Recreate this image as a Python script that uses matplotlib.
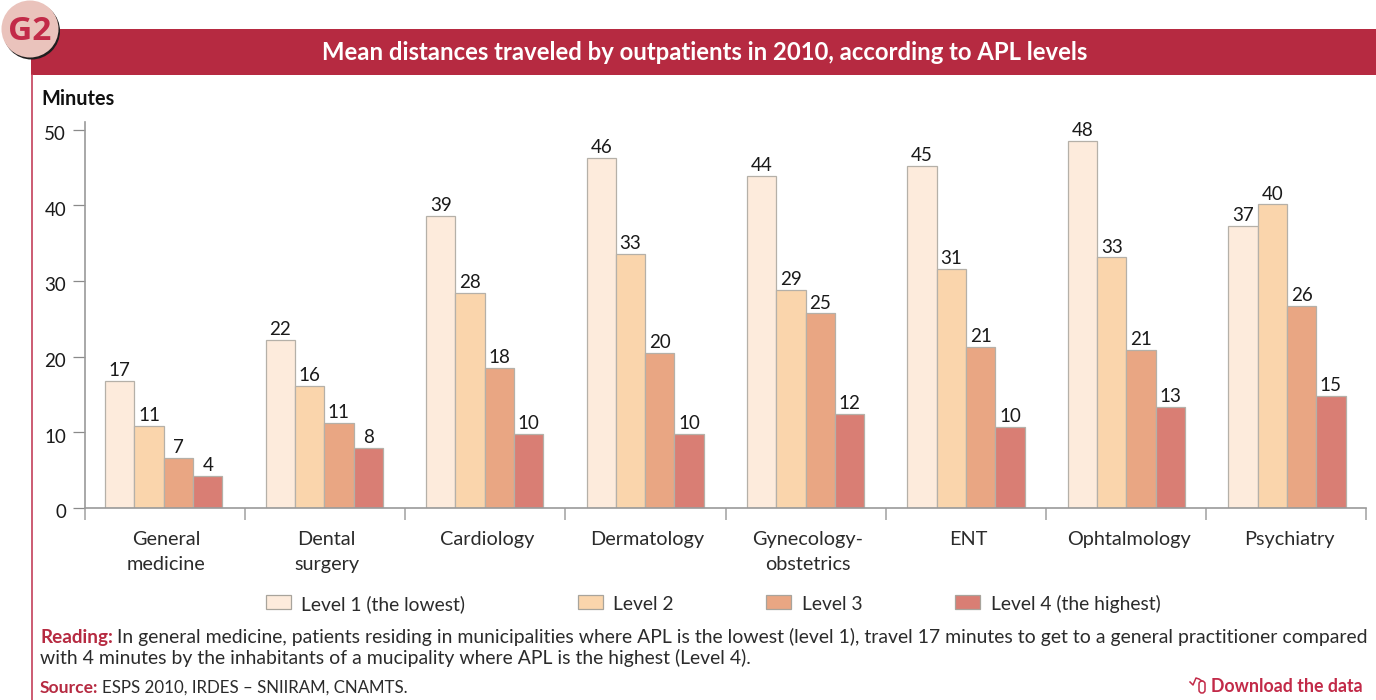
import matplotlib
matplotlib.use("Agg")
import matplotlib.pyplot as plt
from matplotlib.patches import Rectangle, Circle, FancyBboxPatch
from matplotlib.transforms import ScaledTranslation
import numpy as np

categories = ["General\nmedicine", "Dental\nsurgery", "Cardiology", "Dermatology",
              "Gynecology-\nobstetrics", "ENT", "Ophtalmology", "Psychiatry"]
level1 = [16.8, 22.2, 38.6, 46.3, 43.9, 45.2, 48.5, 37.3]
level2 = [10.9, 16.1, 28.4, 33.6, 28.8, 31.6, 33.1, 40.1]
level3 = [6.6, 11.2, 18.5, 20.5, 25.7, 21.3, 20.9, 26.7]
level4 = [4.2, 7.9, 9.8, 9.8, 12.4, 10.7, 13.4, 14.8]
labels1 = [17, 22, 39, 46, 44, 45, 48, 37]
labels2 = [11, 16, 28, 33, 29, 31, 33, 40]
labels3 = [7, 11, 18, 20, 25, 21, 21, 26]
labels4 = [4, 8, 10, 10, 12, 10, 13, 15]
series_names = ["Level 1 (the lowest)", "Level 2", "Level 3", "Level 4 (the highest)"]
colors = ["#FDEBDC", "#FAD5AC", "#E9A683", "#D97E74"]
title = "Mean distances traveled by outpatients in 2010, according to APL levels"
yticks = [0, 10, 20, 30, 40, 50]

W, H = 1376, 700
RED = "#B62A41"
TXT = "#2B2B2B"
FONT = "Lato"
plt.rcParams["font.family"] = [FONT, "DejaVu Sans"]

fig = plt.figure(figsize=(W / 100, H / 100), dpi=100, facecolor="white")

# overlay in pixel coordinates
ov = fig.add_axes([0, 0, 1, 1], zorder=0)
ov.set_xlim(0, W); ov.set_ylim(H, 0); ov.axis("off")
ov.add_patch(Rectangle((31, 29), W - 31, 46, fc=RED, ec="none"))
ov.plot([32, 32], [75, 700], color="#C4405A", lw=1.2)
ov.add_patch(Circle((31.5, 31), 28.5, fc="#1f1f1f", ec="none", zorder=3))
ov.add_patch(Circle((30, 29), 28.5, fc="#EAC3BC", ec="none", zorder=4))
ov.text(30, 31, "G2", color="#C22A48", fontsize=24, fontweight="bold", ha="center", va="center", zorder=5,
        family="Open Sans")
ov.text(704.5, 53, title, color="white", fontsize=17.2, fontweight="bold", ha="center", va="center")
ov.text(41, 99, "Minutes", color="#111111", fontsize=14.3, fontweight="bold", ha="left", va="center")

# chart
x0, x1, ytop, ybot = 85, 1366, 122, 508
ax = fig.add_axes([x0 / W, 1 - ybot / H, (x1 - x0) / W, (ybot - ytop) / H], zorder=1)
ax.patch.set_alpha(0)
ax.set_xlim(0, 8)
ax.set_ylim(0, 51)
bw = 0.183
offs = np.array([-1.5, -0.5, 0.5, 1.5]) * bw
pos = np.arange(8) * 1.002 + 0.5 - 0.008
series = [level1, level2, level3, level4]
lab = [labels1, labels2, labels3, labels4]
for s, c, o, ls in zip(series, colors, offs, lab):
    bars = ax.bar(pos + o, s, bw, color=c, edgecolor="#B5B0A8", linewidth=0.9, zorder=2)
    for r, v in zip(bars, ls):
        ax.text(r.get_x() + r.get_width() / 2, r.get_height() + 0.25, str(v), ha="center", va="bottom",
                fontsize=13.5, color="#1a1a1a")
for sp in ["top", "right"]:
    ax.spines[sp].set_visible(False)
for sp in ["left", "bottom"]:
    ax.spines[sp].set_color("#9A9A9A")
    ax.spines[sp].set_linewidth(1.2)
ax.set_yticks(yticks)
ax.tick_params(axis="y", length=8.5, width=0.9, color="#8A8A8A", labelsize=13.5, labelcolor="#1a1a1a", pad=5)
shift = ScaledTranslation(0, -3.5 / 100, fig.dpi_scale_trans)
for l in ax.get_yticklabels():
    l.set_transform(l.get_transform() + shift)
ax.set_xticks(np.arange(9))
ax.set_xticklabels([])
ax.tick_params(axis="x", length=8.5, width=1.2, color="#A8A8A8")
ax.set_xticks(pos, minor=True)
ax.set_xticklabels(categories, minor=True, fontsize=14.3, color=TXT, linespacing=1.55)
ax.tick_params(axis="x", which="minor", length=0, pad=16.5)
xshift = ScaledTranslation(2.5 / 100, 0, fig.dpi_scale_trans)
for l in ax.get_xticklabels(minor=True):
    l.set_transform(l.get_transform() + xshift)

# legend
leg_x = [266, 578, 766, 955]
leg_tx = [301, 613, 802, 991]
for lx, tx, c, n in zip(leg_x, leg_tx, colors, series_names):
    ov.add_patch(Rectangle((lx, 595), 25, 14, fc=c, ec="#A8A49C", lw=0.9))
    ov.text(tx, 604, n, fontsize=13.85, color=TXT, ha="left", va="center")

# notes
def rich(x, y, head, body, hs, fs):
    t = ov.text(x, y, head, color=RED, fontsize=hs, fontweight="bold", ha="left", va="center")
    fig.canvas.draw()
    ov.text(t.get_window_extent().x1 + 4, y, body, color=TXT, fontsize=fs, ha="left", va="center")

rich(40, 637, "Reading:", "In general medicine, patients residing in municipalities where APL is the lowest (level 1), travel 17 minutes to get to a general practitioner compared", 13.6, 13.97)
ov.text(40, 658, "with 4 minutes by the inhabitants of a mucipality where APL is the highest (Level 4).",
        color=TXT, fontsize=13.93, ha="left", va="center")
rich(40, 688, "Source:", "ESPS 2010, IRDES – SNIIRAM, CNAMTS.", 12.6, 12.2)
ov.text(1363, 686, "Download the data", color="#C22A48", fontsize=12.8, fontweight="bold", ha="right", va="center")
ov.add_patch(FancyBboxPatch((1199, 681), 6, 12, boxstyle="round,pad=0,rounding_size=3", fc="none", ec="#C22A48", lw=1.1))
ov.plot([1190, 1193, 1196, 1199, 1202], [682, 685, 678, 679, 681], color="#C22A48", lw=1.1)

fig.savefig("out.png", dpi=100, facecolor="white")
